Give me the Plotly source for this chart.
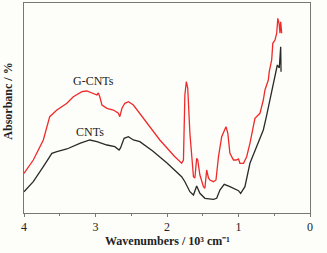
import plotly.graph_objects as go

# G-CNTs (red) spectrum: wavenumber (10^3 cm^-1) and absorbance (arbitrary units)
g_x = [4.0, 3.87, 3.73, 3.64, 3.54, 3.40, 3.31, 3.19, 3.12, 3.03, 2.98, 2.96, 2.94, 2.91,
       2.84, 2.75, 2.68, 2.66, 2.63, 2.59, 2.54, 2.47, 2.30, 2.10, 1.90, 1.795, 1.77, 1.75,
       1.73, 1.71, 1.68, 1.63, 1.61, 1.585, 1.57, 1.54, 1.49, 1.47, 1.445, 1.42, 1.40,
       1.35, 1.315, 1.28, 1.235, 1.21, 1.175, 1.15, 1.12, 1.07, 1.03, 1.00, 0.98, 0.93,
       0.886, 0.84, 0.79, 0.77, 0.70, 0.653, 0.63, 0.583, 0.57, 0.536, 0.52, 0.49, 0.466,
       0.45, 0.433, 0.42, 0.41, 0.396]
g_y = [39.7, 53, 73, 96.3, 103, 109.7, 116.3, 121.3, 122, 119.7, 118, 120, 116.3, 108,
       104.7, 103, 99.7, 96.3, 104.7, 109.7, 111.3, 108, 92, 73, 57, 49.7, 53, 118,
       131.3, 125, 79.7, 36.3, 35, 54.7, 53, 38, 26.3, 24.7, 43, 35, 33,
       31.3, 33, 56.3, 76.3, 80, 86.3, 80, 59.7, 53, 53, 54, 49.7, 49.7,
       56.3, 69.7, 86.3, 94.7, 99.7, 113, 123, 133, 141.3, 153, 169.7, 173, 179.7,
       194.7, 189.7, 179.7, 191.3, 179.7]

# CNTs (black) spectrum
c_x = [4.0, 3.87, 3.73, 3.61, 3.54, 3.40, 3.22, 3.08, 2.98, 2.84, 2.73, 2.67, 2.65,
       2.60, 2.54, 2.47, 2.38, 2.20, 2.00, 1.795, 1.75, 1.68, 1.63, 1.585, 1.54, 1.47,
       1.35, 1.305, 1.26, 1.20, 1.12, 1.00, 0.97, 0.91, 0.84, 0.745, 0.653, 0.61, 0.56,
       0.51, 0.457, 0.43, 0.41, 0.405]
c_y = [21.3, 31.3, 46.3, 59.7, 61.3, 64, 69.7, 73, 71.3, 68, 66.3, 63, 65,
       74.7, 76.3, 73, 71.3, 62, 50, 36.3, 31.3, 21.3, 18, 27, 19.7, 14.7,
       13.7, 14.7, 23, 28.7, 26.3, 22.3, 19.7, 26.3, 49.7, 66.3, 83, 96.3, 113,
       129.7, 148, 145, 166.3, 141.3]

x_ticks = [4, 3, 2, 1, 0]
series_labels = ["G-CNTs", "CNTs"]
label_pos_x = [3.035, 3.08]
label_pos_y = [132, 81]

font_family = "Liberation Serif, Times New Roman, serif"

fig = go.Figure()
fig.add_trace(go.Scatter(x=g_x, y=g_y, mode="lines", line=dict(color="#ee2a2a", width=1.3),
                         name=series_labels[0], showlegend=False))
fig.add_trace(go.Scatter(x=c_x, y=c_y, mode="lines", line=dict(color="#2a2a2a", width=1.3),
                         name=series_labels[1], showlegend=False))

for t, xx, yy in zip(series_labels, label_pos_x, label_pos_y):
    fig.add_annotation(x=xx, y=yy, text=t, showarrow=False,
                       font=dict(family=font_family, size=12, color="#222"))

# axis titles as paper annotations for precise placement
fig.add_annotation(xref="paper", yref="paper", x=0.5, y=0, yshift=-28, yanchor="middle",
                   text="<b>Wavenumbers / 10³ cm⁻¹</b>", showarrow=False,
                   font=dict(family=font_family, size=12, color="#222"))
fig.add_annotation(xref="paper", yref="paper", x=0, xshift=-16, y=0.53, xanchor="center",
                   text="<b>Absorbanc / %</b>", showarrow=False, textangle=-90,
                   font=dict(family=font_family, size=12, color="#222"))

fig.update_layout(
    width=327, height=253,
    margin=dict(l=24, r=17, t=3, b=40, autoexpand=False),
    paper_bgcolor="#fdfdfa", plot_bgcolor="#fdfdfa",
    font=dict(family=font_family, size=12, color="#222"),
)
fig.update_xaxes(range=[4, 0], tickvals=x_ticks, ticktext=[str(v) for v in x_ticks],
                 ticks="outside", ticklen=3, tickcolor="#777",
                 minor=dict(dtick=0.5, ticks="outside", ticklen=2, tickcolor="#777"),
                 showline=True, linecolor="#777", linewidth=1, mirror=True,
                 showgrid=False, zeroline=False, automargin=False,
                 tickfont=dict(size=12))
fig.update_yaxes(range=[0, 210], showticklabels=False, ticks="",
                 showline=True, linecolor="#777", linewidth=1, mirror=True,
                 showgrid=False, zeroline=False, automargin=False)

fig.write_html("out.html", config={"displayModeBar": False},
               post_script="document.body.style.margin='0';document.body.style.background='#fdfdfa';")
